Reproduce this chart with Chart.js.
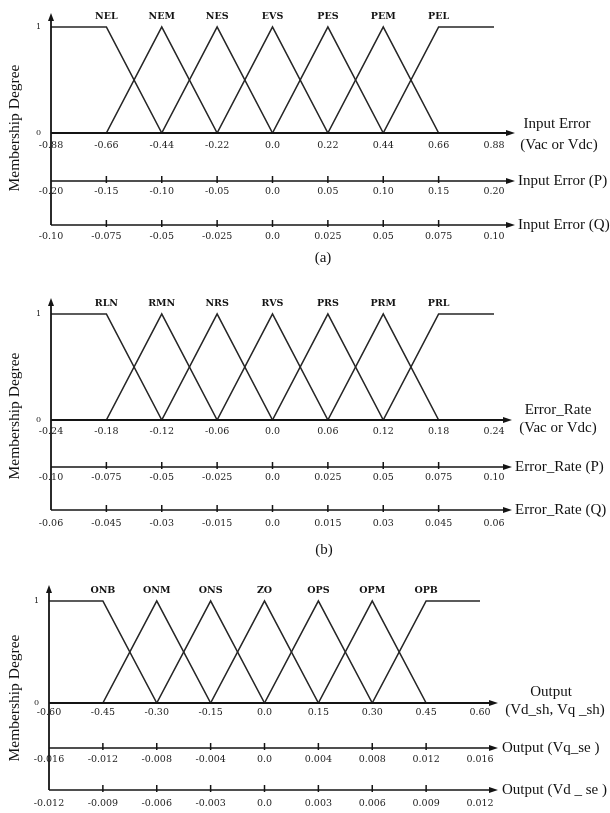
<!DOCTYPE html>
<html><head><meta charset="utf-8">
<script src="https://cdn.jsdelivr.net/npm/chart.js@4.4.0/dist/chart.umd.min.js"></script>
<style>
html,body{margin:0;padding:0;background:#fff;}
#wrap{position:relative;width:610px;height:813px;overflow:hidden;background:#fff;}
canvas{position:absolute;left:0;}
</style></head><body>
<div id="wrap">
<canvas id="ca" width="610" height="270" style="top:0px"></canvas>
<canvas id="cb" width="610" height="292" style="top:270px"></canvas>
<canvas id="cc" width="610" height="251" style="top:562px"></canvas>
</div>
<script>
// ---------- data ----------
const leftShoulder = [1, 1, 0];
const triangle = [0, 1, 0];
const rightShoulder = [0, 1, 1];

const mfNamesA = ['NEL','NEM','NES','EVS','PES','PEM','PEL'];
const breaksA = [-0.88,-0.66,-0.44,-0.22,0,0.22,0.44,0.66,0.88];
const breakLabelsA = ['-0.88','-0.66','-0.44','-0.22','0.0','0.22','0.44','0.66','0.88'];
const pTicksA = [-0.20,-0.15,-0.10,-0.05,0,0.05,0.10,0.15,0.20];
const pLabelsA = ['-0.20','-0.15','-0.10','-0.05','0.0','0.05','0.10','0.15','0.20'];
const qTicksA = [-0.10,-0.075,-0.05,-0.025,0,0.025,0.05,0.075,0.10];
const qLabelsA = ['-0.10','-0.075','-0.05','-0.025','0.0','0.025','0.05','0.075','0.10'];

const mfNamesB = ['RLN','RMN','NRS','RVS','PRS','PRM','PRL'];
const breaksB = [-0.24,-0.18,-0.12,-0.06,0,0.06,0.12,0.18,0.24];
const breakLabelsB = ['-0.24','-0.18','-0.12','-0.06','0.0','0.06','0.12','0.18','0.24'];
const pTicksB = [-0.10,-0.075,-0.05,-0.025,0,0.025,0.05,0.075,0.10];
const pLabelsB = ['-0.10','-0.075','-0.05','-0.025','0.0','0.025','0.05','0.075','0.10'];
const qTicksB = [-0.06,-0.045,-0.03,-0.015,0,0.015,0.03,0.045,0.06];
const qLabelsB = ['-0.06','-0.045','-0.03','-0.015','0.0','0.015','0.03','0.045','0.06'];

const mfNamesC = ['ONB','ONM','ONS','ZO','OPS','OPM','OPB'];
const breaksC = [-0.60,-0.45,-0.30,-0.15,0,0.15,0.30,0.45,0.60];
const breakLabelsC = ['-0.60','-0.45','-0.30','-0.15','0.0','0.15','0.30','0.45','0.60'];
const pTicksC = [-0.016,-0.012,-0.008,-0.004,0,0.004,0.008,0.012,0.016];
const pLabelsC = ['-0.016','-0.012','-0.008','-0.004','0.0','0.004','0.008','0.012','0.016'];
const qTicksC = [-0.012,-0.009,-0.006,-0.003,0,0.003,0.006,0.009,0.012];
const qLabelsC = ['-0.012','-0.009','-0.006','-0.003','0.0','0.003','0.006','0.009','0.012'];

const yTicks = [0, 1];
const yTickLabels = ['0', '1'];

// ---------- panels ----------
const panels = [
  { id:'ca', names:mfNamesA, breaks:breaksA, bl:breakLabelsA, p:pTicksA, pl:pLabelsA, q:qTicksA, ql:qLabelsA,
    pad:{top:27,left:0,right:116,bottom:20}, yW:51, h:[48,44,25], tp:[7,5,6], arrowEnd:515, arrowTop:14,
    head:[['Input Error',557,-9],['(Vac or Vdc)',559,12]], side:['Input Error (P)','Input Error (Q)'], sideX:518,
    letter:['(a)',323,258], ylabY:128 },
  { id:'cb', names:mfNamesB, breaks:breaksB, bl:breakLabelsB, p:pTicksB, pl:pLabelsB, q:qTicksB, ql:qLabelsB,
    pad:{top:44,left:0,right:116,bottom:27}, yW:51, h:[47,43,25], tp:[6,5,8], arrowEnd:512, arrowTop:16,
    head:[['Error_Rate',558,-10],['(Vac or Vdc)',558,8]], side:['Error_Rate (P)','Error_Rate (Q)'], sideX:515,
    letter:['(b)',324,280], ylabY:146 },
  { id:'cc', names:mfNamesC, breaks:breaksC, bl:breakLabelsC, p:pTicksC, pl:pLabelsC, q:qTicksC, ql:qLabelsC,
    pad:{top:39,left:0,right:130,bottom:3}, yW:49, h:[45,42,20], tp:[4,6,8], arrowEnd:498, arrowTop:16,
    head:[['Output',551,-11],['(Vd_sh, Vq _sh)',555,7]], side:['Output (Vq_se )','Output (Vd _ se )'], sideX:502,
    letter:null, ylabY:136 }
];

const INK = '#141414';
const tickFont = { family: 'DejaVu Serif', size: 9.5 };

function mfDatasets(breaks) {
  const ds = [];
  for (let i = 0; i < 7; i++) {
    const xs = [breaks[i], breaks[i+1], breaks[i+2]];
    const ys = i === 0 ? leftShoulder : (i === 6 ? rightShoulder : triangle);
    ds.push({
      data: xs.map((v, k) => ({ x: v, y: ys[k] })),
      borderColor: '#262626', borderWidth: 1.6, pointRadius: 0, tension: 0,
      fill: false, clip: false, xAxisID: 'x', yAxisID: 'y'
    });
  }
  return ds;
}

function xScale(vals, labels, height, pad, weight) {
  return {
    type: 'linear', position: 'bottom', min: vals[0], max: vals[vals.length-1], weight: weight,
    grid: { display: false, drawTicks: false }, border: { display: false },
    afterBuildTicks: s => { s.ticks = vals.map(v => ({ value: v })); },
    afterFit: s => { s.height = height; },
    ticks: { autoSkip: false, maxRotation: 0, minRotation: 0, padding: pad, color: '#1c1c1c', font: tickFont,
             callback: (v, i) => labels[i] }
  };
}

function line(ctx, x1, y1, x2, y2) { ctx.beginPath(); ctx.moveTo(x1, y1); ctx.lineTo(x2, y2); ctx.stroke(); }

function makeDeco(cfg) {
  return {
    id: 'deco_' + cfg.id,
    afterDraw(chart) {
      const ctx = chart.ctx;
      const sx = chart.scales.x, sx2 = chart.scales.x2, sx3 = chart.scales.x3, sy = chart.scales.y;
      const L = sx.left;
      const yTop = sy.getPixelForValue(1) - cfg.arrowTop;
      ctx.save();
      ctx.strokeStyle = INK; ctx.fillStyle = INK;
      // vertical axis
      ctx.lineWidth = 1.8;
      line(ctx, L, sx3.top, L, yTop + 4);
      ctx.beginPath(); ctx.moveTo(L, yTop); ctx.lineTo(L - 3, yTop + 8); ctx.lineTo(L + 3, yTop + 8); ctx.closePath(); ctx.fill();
      // horizontal axes
      [sx, sx2, sx3].forEach((s, k) => {
        ctx.lineWidth = k === 0 ? 2.2 : 1.6;
        line(ctx, L, s.top, cfg.arrowEnd - 4, s.top);
        ctx.beginPath(); ctx.moveTo(cfg.arrowEnd, s.top); ctx.lineTo(cfg.arrowEnd - 9, s.top - 3); ctx.lineTo(cfg.arrowEnd - 9, s.top + 3); ctx.closePath(); ctx.fill();
      });
      // tick marks on secondary axes
      ctx.lineWidth = 1.5;
      [sx2, sx3].forEach(s => {
        s.ticks.slice(1, -1).forEach(t => {
          const px = s.getPixelForValue(t.value);
          line(ctx, px, s.top - 5, px, s.top + 2);
        });
      });
      // membership function names
      ctx.font = 'bold 9.5px "DejaVu Serif"';
      ctx.textAlign = 'center'; ctx.textBaseline = 'middle';
      const ly = sy.getPixelForValue(1) - 10;
      cfg.names.forEach((n, i) => {
        ctx.fillText(n, sx.getPixelForValue(cfg.breaks[i+1]), ly);
      });
      // right-hand axis names
      ctx.font = '15px "Liberation Serif"';
      ctx.fillStyle = '#111';
      cfg.head.forEach(h => { ctx.textAlign = 'center'; ctx.fillText(h[0], h[1], sx.top + h[2]); });
      ctx.textAlign = 'left';
      ctx.fillText(cfg.side[0], cfg.sideX, sx2.top);
      ctx.fillText(cfg.side[1], cfg.sideX, sx3.top);
      if (cfg.letter) { ctx.textAlign = 'center'; ctx.fillText(cfg.letter[0], cfg.letter[1], cfg.letter[2]); }
      // y title
      ctx.save();
      ctx.translate(15, cfg.ylabY);
      ctx.rotate(-Math.PI / 2);
      ctx.textAlign = 'center';
      ctx.font = '15.5px "Liberation Serif"';
      ctx.fillText('Membership Degree', 0, 0);
      ctx.restore();
      ctx.restore();
    }
  };
}

panels.forEach(cfg => {
  new Chart(document.getElementById(cfg.id), {
    type: 'line',
    data: { datasets: mfDatasets(cfg.breaks) },
    options: {
      responsive: false, animation: false, devicePixelRatio: 1,
      layout: { padding: cfg.pad },
      plugins: { legend: { display: false }, tooltip: { enabled: false }, title: { display: false } },
      scales: {
        x: xScale(cfg.breaks, cfg.bl, cfg.h[0], cfg.tp[0], 1),
        x2: xScale(cfg.p, cfg.pl, cfg.h[1], cfg.tp[1], 2),
        x3: xScale(cfg.q, cfg.ql, cfg.h[2], cfg.tp[2], 3),
        y: {
          type: 'linear', position: 'left', min: 0, max: 1,
          grid: { display: false, drawTicks: false }, border: { display: false },
          afterBuildTicks: s => { s.ticks = yTicks.map(v => ({ value: v })); },
          afterFit: s => { s.width = cfg.yW; },
          ticks: { padding: 10, color: '#222', font: { family: 'DejaVu Serif', size: 8 },
                   callback: (v, i) => yTickLabels[i] }
        }
      }
    },
    plugins: [makeDeco(cfg)]
  });
});
</script>
</body></html>
